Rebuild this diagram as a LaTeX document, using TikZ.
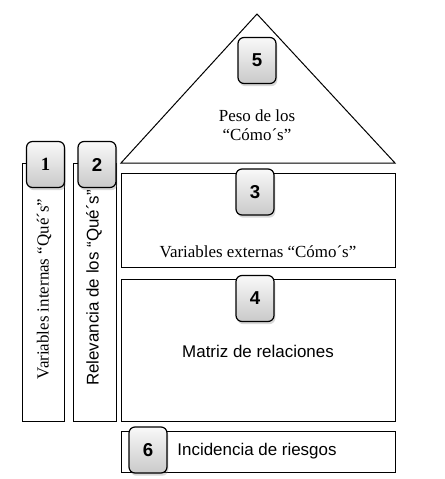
\documentclass[tikz,border=0pt]{standalone}
\usepackage{fontspec}
\setmainfont{Liberation Serif}
\setsansfont{Liberation Sans}
\usetikzlibrary{shadows}

\tikzset{
  panel/.style={draw, line width=0.75pt, fill=white},
  badge/.style={draw, line width=0.9pt, rounded corners=4.5pt,
    minimum width=28.5pt, minimum height=34.5pt, inner sep=0pt,
    top color=gray!5, bottom color=gray!42,
    drop shadow={shadow xshift=1pt, shadow yshift=-2pt, opacity=0.3},
    font=\sffamily\bfseries\fontsize{14}{16}\selectfont},
  lbl/.style={font=\fontsize{12.7}{14}\selectfont, inner sep=0pt},
  slbl/.style={font=\sffamily\fontsize{12.7}{14}\selectfont, inner sep=0pt},
}

\begin{document}
\begin{tikzpicture}[x=0.75pt,y=-0.75pt]
\useasboundingbox (0,0) rectangle (444,479);

% roof and house body
\draw[panel] (121,163) coordinate (roofL) -- (257,14) coordinate (apex)
  -- (395,163) coordinate (roofR) -- cycle;
\draw[panel] (22,163) rectangle (64,421);
\draw[panel] (73,163) rectangle (116,421);
\draw[panel] (121,173) rectangle (395,267);
\draw[panel] (121,279) rectangle (395,421);
\draw[panel] (121,431) rectangle (395,472);

% texts
\node[lbl, align=center] (peso) at (257,125) {Peso de los\\“Cómo´s”};
\node[lbl] (externas) at (258,252) {Variables externas “Cómo´s”};
\node[slbl] (matriz) at (258,351) {Matriz de relaciones};
\node[slbl] (riesgos) at (257,451) {Incidencia de riesgos};
\node[lbl, rotate=90] (internas) at (44,289) {Variables internas “Qué´s”};
\node[slbl, rotate=90] (relev) at (94,288) {Relevancia de los “Qué´s”};

% numbered badges
\node[badge, font=\bfseries\fontsize{14}{16}\selectfont] (b1) at (45.5,164.5) {1};
\node[badge] (b2) at (97,164.5) {2};
\node[badge] (b5) at (257,60.5) {5};
\node[badge] (b3) at (255,192) {3};
\node[badge] (b4) at (255,298.5) {4};
\node[badge] (b6) at (148,450) {6};
\end{tikzpicture}
\end{document}
